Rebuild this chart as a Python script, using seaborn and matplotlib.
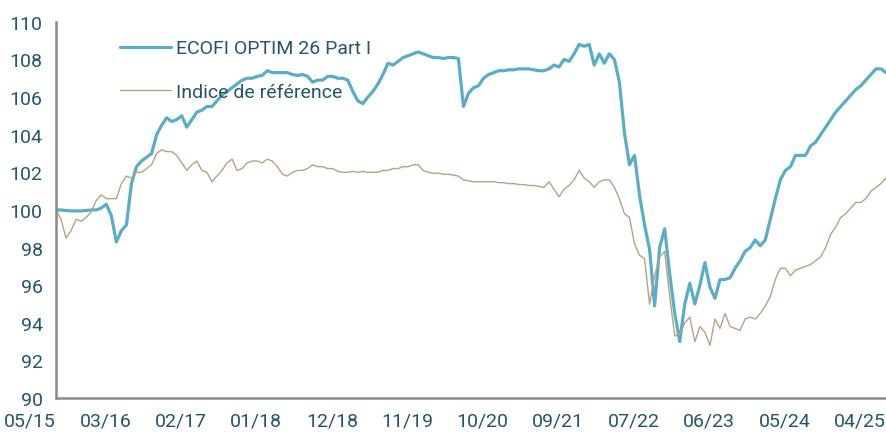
import numpy as np
import pandas as pd
import seaborn as sns
import matplotlib.pyplot as plt

# valeurs, une tous les 16 jours de bourse
ecofi = [
    100.0, 100.0, 99.97, 99.95, 99.95, 99.95, 99.97, 100.0, 100.0, 100.1,
    100.3, 99.7, 98.3, 98.9, 99.2, 101.4, 102.3, 102.6, 102.8, 103.0,
    104.0, 104.5, 104.9, 104.7, 104.8, 105.0, 104.4, 104.8, 105.2, 105.3,
    105.5, 105.5, 105.8, 106.1, 106.3, 106.5, 106.7, 106.9, 107.0, 107.0,
    107.1, 107.15, 107.4, 107.3, 107.3, 107.3, 107.3, 107.2, 107.15, 107.2,
    107.1, 106.8, 106.9, 106.9, 107.1, 107.1, 107.0, 107.0, 106.9, 106.3,
    105.8, 105.65, 106.0, 106.3, 106.7, 107.2, 107.8, 107.7, 107.9, 108.1,
    108.2, 108.3, 108.4, 108.3, 108.2, 108.1, 108.1, 108.05, 108.1, 108.1,
    108.05, 105.5, 106.2, 106.5, 106.6, 107.0, 107.2, 107.3, 107.4, 107.4,
    107.45, 107.45, 107.5, 107.5, 107.5, 107.45, 107.4, 107.4, 107.5, 107.7,
    107.6, 108.0, 107.9, 108.3, 108.8, 108.7, 108.8, 107.7, 108.3, 107.8,
    108.3, 108.0, 106.8, 104.1, 102.4, 102.9, 100.8, 99.2, 97.9, 94.9,
    98.0, 99.0, 96.6, 94.5, 93.0, 95.0, 96.1, 95.0, 96.0, 97.2,
    95.9, 95.3, 96.3, 96.3, 96.4, 96.9, 97.3, 97.8, 98.0, 98.4,
    98.1, 98.4, 99.5, 100.6, 101.6, 102.1, 102.3, 102.9, 102.9, 102.9,
    103.4, 103.6, 104.0, 104.4, 104.8, 105.2, 105.5, 105.8, 106.1, 106.4,
    106.6, 106.9, 107.2, 107.5, 107.5, 107.3,
]
indice = [
    100.0, 99.5, 98.5, 98.9, 99.5, 99.4, 99.6, 99.9, 100.5, 100.8,
    100.6, 100.6, 100.6, 101.4, 101.8, 101.7, 102.0, 102.0, 102.2, 102.4,
    103.0, 103.2, 103.1, 103.1, 102.9, 102.5, 102.1, 102.4, 102.6, 102.1,
    102.0, 101.5, 101.8, 102.1, 102.5, 102.7, 102.1, 102.2, 102.5, 102.6,
    102.6, 102.5, 102.7, 102.6, 102.3, 101.9, 101.8, 102.0, 102.1, 102.1,
    102.2, 102.4, 102.3, 102.3, 102.2, 102.2, 102.05, 102.0, 102.0, 102.05,
    102.0, 102.05, 102.0, 102.0, 102.0, 102.1, 102.1, 102.2, 102.2, 102.3,
    102.3, 102.4, 102.4, 102.1, 102.0, 101.95, 101.95, 101.9, 101.9, 101.85,
    101.8, 101.6, 101.55, 101.5, 101.5, 101.5, 101.5, 101.5, 101.45, 101.45,
    101.4, 101.4, 101.35, 101.35, 101.3, 101.3, 101.25, 101.2, 101.5, 101.1,
    100.7, 101.1, 101.3, 101.6, 102.1, 101.7, 101.5, 101.2, 101.5, 101.6,
    101.6, 101.2, 100.6, 99.8, 99.6, 98.2, 97.6, 97.4, 95.0, 96.5,
    97.5, 97.8, 95.4, 93.3, 93.4, 94.0, 94.3, 93.0, 93.8, 93.5,
    92.8, 94.2, 93.7, 94.5, 93.8, 93.7, 93.6, 94.2, 94.3, 94.2,
    94.5, 94.9, 95.4, 96.3, 96.9, 96.9, 96.5, 96.8, 96.9, 97.0,
    97.1, 97.3, 97.5, 98.0, 98.7, 99.1, 99.6, 99.8, 100.1, 100.4,
    100.4, 100.6, 101.0, 101.2, 101.4, 101.7,
]
tick_labels = ['05/15', '03/16', '02/17', '01/18', '12/18', '11/19',
               '10/20', '09/21', '07/22', '06/23', '05/24', '04/25']

step = 16          # jours de bourse entre deux points
tick_every = 240   # jours de bourse entre deux graduations

df = pd.DataFrame({
    'jour': np.arange(len(ecofi)) * step,
    'ECOFI OPTIM 26 Part I': ecofi,
    'Indice de référence': indice,
})

sns.set_style('white')
plt.rcParams['font.family'] = ['Roboto', 'DejaVu Sans']

text_col = '#24566a'
axis_col = '#8a8a8a'

fig = plt.figure(figsize=(8.86, 4.39), dpi=100)
ax = fig.add_axes([0.0632, 0.091, 0.9368, 0.857])

sns.lineplot(data=df, x='jour', y='ECOFI OPTIM 26 Part I', ax=ax,
             color='#5aadc7', linewidth=2.3, label='ECOFI OPTIM 26 Part I')
sns.lineplot(data=df, x='jour', y='Indice de référence', ax=ax,
             color='#b9a183', linewidth=1.0, label='Indice de référence')

ax.set_xlim(0, tick_every * (len(tick_labels) - 1))
ax.set_ylim(90, 110)
ax.set_yticks(np.arange(90, 111, 2))
ax.set_xticks(np.arange(len(tick_labels)) * tick_every)
ax.set_xticklabels(tick_labels, ha='right')
ax.set_xlabel('')
ax.set_ylabel('')

for s in ['top', 'right']:
    ax.spines[s].set_visible(False)
for s in ['left', 'bottom']:
    ax.spines[s].set_color(axis_col)
    ax.spines[s].set_linewidth(1.8)
ax.tick_params(axis='both', direction='inout', length=11, width=1.5,
               color=axis_col, labelcolor=text_col, labelsize=14)
ax.tick_params(axis='y', pad=4)
ax.tick_params(axis='x', pad=4)

ax.legend(loc='upper left', bbox_to_anchor=(0.056, 1.0), frameon=False,
          fontsize=14, labelcolor=text_col, handlelength=2.6,
          handletextpad=0.3, labelspacing=1.3)

fig.savefig('out.png', dpi=100)
